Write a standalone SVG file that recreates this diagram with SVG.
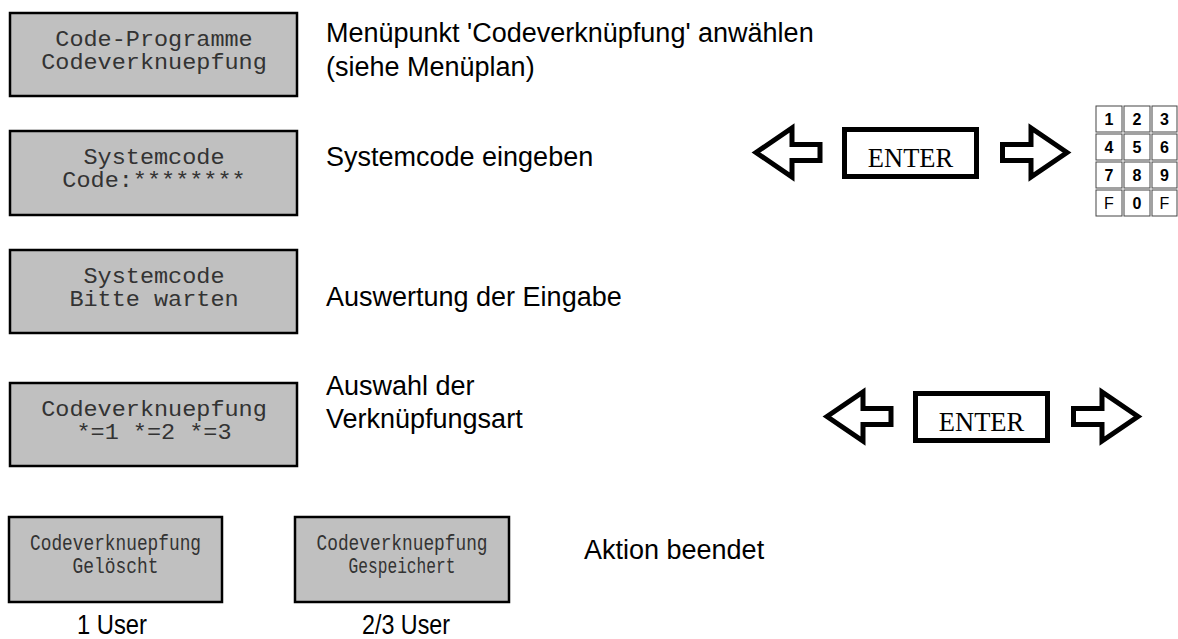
<svg xmlns="http://www.w3.org/2000/svg" width="1178" height="639" viewBox="0 0 1178 639">
  <style>
    .lcd { fill: #c0c0c0; stroke: #000; stroke-width: 2.5; }
    .mono { font-family: "Liberation Mono", "Courier New", monospace; font-size: 22px; fill: #333; text-anchor: middle; }
    .desc { font-family: "Liberation Sans", Arial, sans-serif; font-size: 27px; fill: #000; }
    .user { font-family: "Liberation Sans", Arial, sans-serif; font-size: 28px; fill: #000; text-anchor: middle; }
    .arrow { fill: #fff; stroke: #000; stroke-width: 5; stroke-linejoin: miter; }
    .key { fill: #fff; stroke: #444; stroke-width: 1; }
    .enter { fill: #fff; stroke: #000; stroke-width: 5; }
    .entertxt { font-family: "Liberation Serif", "Times New Roman", serif; font-size: 26.5px; fill: #000; text-anchor: middle; }
    .keytxt { font-family: "Liberation Sans", Arial, sans-serif; font-size: 16px; font-weight: bold; fill: #000; text-anchor: middle; }
    .keyf { font-weight: normal; }
  </style>
  <defs>
    <!-- hollow left/right block arrows with the ENTER key between them -->
    <g id="enterRow">
      <polygon class="arrow" points="756,152.5 792,128 792,144.5 820,144.5 820,160.5 792,160.5 792,177"/>
      <rect class="enter" x="844.5" y="129.5" width="132" height="47"/>
      <text class="entertxt" x="910.5" y="167">ENTER</text>
      <polygon class="arrow" points="1067,152.5 1031,128 1031,144.5 1002.5,144.5 1002.5,160.5 1031,160.5 1031,177"/>
    </g>
  </defs>

  <!-- display states (text stretched to the 14.1px LCD character pitch) -->
  <g id="lcd-menu">
    <rect class="lcd" x="10" y="13" width="287" height="83"/>
    <text class="mono" x="154" y="46" textLength="197.4" lengthAdjust="spacingAndGlyphs">Code-Programme</text>
    <text class="mono" x="154" y="69" textLength="225.6" lengthAdjust="spacingAndGlyphs">Codeverknuepfung</text>
  </g>
  <g id="lcd-code">
    <rect class="lcd" x="10" y="131" width="287" height="84"/>
    <text class="mono" x="154" y="164" textLength="141" lengthAdjust="spacingAndGlyphs">Systemcode</text>
    <text class="mono" x="154" y="187" textLength="183.3" lengthAdjust="spacingAndGlyphs">Code:********</text>
  </g>
  <g id="lcd-wait">
    <rect class="lcd" x="10" y="250" width="287" height="83"/>
    <text class="mono" x="154" y="283" textLength="141" lengthAdjust="spacingAndGlyphs">Systemcode</text>
    <text class="mono" x="154" y="306" textLength="169.2" lengthAdjust="spacingAndGlyphs">Bitte warten</text>
  </g>
  <g id="lcd-select">
    <rect class="lcd" x="10" y="383" width="287" height="83"/>
    <text class="mono" x="154" y="416" textLength="225.6" lengthAdjust="spacingAndGlyphs">Codeverknuepfung</text>
    <text class="mono" x="154" y="439" textLength="155.1" lengthAdjust="spacingAndGlyphs">*=1 *=2 *=3</text>
  </g>
  <g id="lcd-deleted">
    <rect class="lcd" x="9" y="517" width="213" height="85"/>
    <text class="mono" x="115.5" y="550" textLength="171" lengthAdjust="spacingAndGlyphs">Codeverknuepfung</text>
    <text class="mono" x="115.5" y="573" textLength="86" lengthAdjust="spacingAndGlyphs">Gelöscht</text>
  </g>
  <g id="lcd-saved">
    <rect class="lcd" x="295" y="517" width="214" height="85"/>
    <text class="mono" x="402" y="550" textLength="171" lengthAdjust="spacingAndGlyphs">Codeverknuepfung</text>
    <text class="mono" x="402" y="573" textLength="107" lengthAdjust="spacingAndGlyphs">Gespeichert</text>
  </g>

  <!-- step descriptions -->
  <g id="descriptions">
    <text class="desc" x="326" y="42">Menüpunkt 'Codeverknüpfung' anwählen</text>
    <text class="desc" x="326" y="76">(siehe Menüplan)</text>
    <text class="desc" x="326" y="166">Systemcode eingeben</text>
    <text class="desc" x="326" y="306">Auswertung der Eingabe</text>
    <text class="desc" x="326" y="395">Auswahl der</text>
    <text class="desc" x="326" y="428">Verknüpfungsart</text>
    <text class="desc" x="584" y="559">Aktion beendet</text>
    <text class="user" x="112" y="634" textLength="70" lengthAdjust="spacingAndGlyphs">1 User</text>
    <text class="user" x="406" y="634" textLength="88" lengthAdjust="spacingAndGlyphs">2/3 User</text>
  </g>

  <!-- key operations -->
  <g id="enter-code">
    <use href="#enterRow"/>
  </g>
  <g id="enter-select">
    <use href="#enterRow" transform="translate(71,264)"/>
  </g>

  <!-- keypad -->
  <g id="keypad">
    <rect class="key" x="1096" y="106" width="26" height="26"/>
    <rect class="key" x="1124" y="106" width="26" height="26"/>
    <rect class="key" x="1152" y="106" width="25" height="26"/>
    <rect class="key" x="1096" y="134" width="26" height="26"/>
    <rect class="key" x="1124" y="134" width="26" height="26"/>
    <rect class="key" x="1152" y="134" width="25" height="26"/>
    <rect class="key" x="1096" y="162" width="26" height="26"/>
    <rect class="key" x="1124" y="162" width="26" height="26"/>
    <rect class="key" x="1152" y="162" width="25" height="26"/>
    <rect class="key" x="1096" y="190" width="26" height="26"/>
    <rect class="key" x="1124" y="190" width="26" height="26"/>
    <rect class="key" x="1152" y="190" width="25" height="26"/>
    <text class="keytxt" x="1109" y="125">1</text>
    <text class="keytxt" x="1137" y="125">2</text>
    <text class="keytxt" x="1164.5" y="125">3</text>
    <text class="keytxt" x="1109" y="153">4</text>
    <text class="keytxt" x="1137" y="153">5</text>
    <text class="keytxt" x="1164.5" y="153">6</text>
    <text class="keytxt" x="1109" y="181">7</text>
    <text class="keytxt" x="1137" y="181">8</text>
    <text class="keytxt" x="1164.5" y="181">9</text>
    <text class="keytxt keyf" x="1109" y="209">F</text>
    <text class="keytxt" x="1137" y="209">0</text>
    <text class="keytxt keyf" x="1164.5" y="209">F</text>
  </g>
</svg>
